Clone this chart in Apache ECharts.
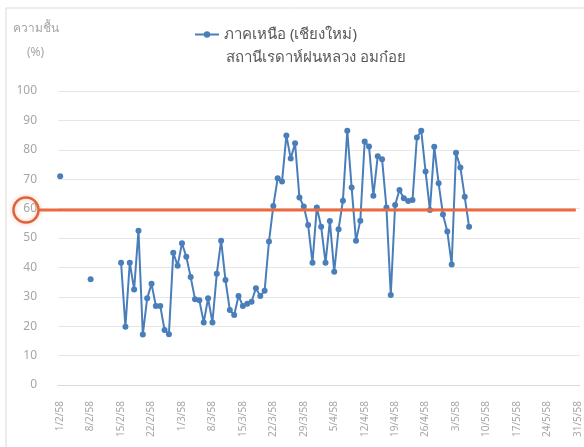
<!DOCTYPE html>
<html>
<head>
<meta charset="utf-8">
<script src="https://cdn.jsdelivr.net/npm/echarts@6/dist/echarts.min.js"></script>
<style>
    html, body { margin: 0; padding: 0; background: #fff; }
    #main { width: 584px; height: 447px; }
</style>
</head>
<body>
<div id="main"></div>
<script>
// วันที่ 1/2/58 ถึง 31/5/58 (วันละจุด)
const monthDays = [[2, 28], [3, 31], [4, 30], [5, 31]];
const categories = [];
monthDays.forEach(([m, n]) => {
    for (let d = 1; d <= n; d++) categories.push(d + '/' + m + '/58');
});

// ความชื้น (%) สถานีเรดาห์ฝนหลวง อมก๋อย
const humidity = [
    71, null, null, null, null, null, null,
    36, null, null, null, null, null, null,
    41.6, 19.8, 41.6, 32.5, 52.5, 17.2, 29.5,
    34.4, 26.9, 26.9, 18.7, 17.3, 45, 40.6,
    48.2, 43.6, 36.7, 29.2, 28.8, 21.3, 29.5,
    21.3, 37.8, 49.1, 35.7, 25.5, 23.8, 30.3,
    26.9, 27.6, 28.3, 32.9, 30.3, 32.1, 48.8,
    60.9, 70.3, 69.2, 84.9, 77, 82.2, 63.8,
    60.7, 54.4, 41.6, 60.4, 53.8, 41.6, 55.8,
    38.5, 53, 62.7, 86.5, 67.2, 49.1, 55.9,
    82.8, 81.1, 64.4, 77.8, 76.8, 60.4, 30.6,
    61.2, 66.3, 63.5, 62.6, 62.9, 84.2, 86.5,
    72.6, 59.5, 81, 68.6, 58, 52.2, 41,
    79, 74, 64, 53.8
];

const yTicks = [0, 100, 10];   // min, max, interval
const threshold = 59.5;        // เส้นเกณฑ์สีแดง

const seriesName = 'ภาคเหนือ (เชียงใหม่)';
const stationName = 'สถานีเรดาห์ฝนหลวง อมก๋อย';

const font = '"Noto Sans", "DejaVu Sans", sans-serif';
const myChart = echarts.init(document.getElementById('main'));
myChart.setOption({
    animation: false,
    textStyle: { fontFamily: font },
    title: [{
        text: stationName,
        left: 221,
        top: 45,
        textStyle: { fontSize: 15, fontWeight: 'normal', color: '#595959' }
    }, {
        text: 'ความชื้น',
        left: 8,
        top: 18,
        textStyle: { fontSize: 12, fontWeight: 'normal', color: '#a6a6a6' }
    }, {
        text: '(%)',
        left: 22,
        top: 42,
        textStyle: { fontSize: 12, fontWeight: 'normal', color: '#a6a6a6' }
    }],
    legend: {
        data: [seriesName],
        left: 189,
        top: 22,
        itemWidth: 24,
        itemHeight: 8,
        itemGap: 3,
        textStyle: { fontSize: 15, color: '#595959' }
    },
    grid: {
        left: 58,
        right: 4,
        top: 91,
        bottom: 62
    },
    xAxis: {
        type: 'category',
        data: categories,
        boundaryGap: true,
        axisLine: { lineStyle: { color: '#d9d9d9' } },
        axisTick: { show: false },
        axisLabel: {
            interval: 6,
            rotate: 90,
            color: '#a6a6a6',
            fontSize: 10,
            margin: 16
        },
        splitLine: { show: false }
    },
    yAxis: {
        type: 'value',
        min: yTicks[0],
        max: yTicks[1],
        interval: yTicks[2],
        axisLine: { show: false },
        axisTick: { show: false },
        axisLabel: { color: '#a6a6a6', fontSize: 12, margin: 21 },
        splitLine: { lineStyle: { color: '#e6e6e6' } }
    },
    series: [{
        name: seriesName,
        type: 'line',
        data: humidity,
        connectNulls: false,
        symbol: 'circle',
        symbolSize: 6,
        showAllSymbol: true,
        lineStyle: { color: '#4a7ebb', width: 2 },
        itemStyle: { color: '#4a7ebb' }
    }]
});

// เส้นเกณฑ์และวงกลมที่ป้ายแกน
const yPx = myChart.convertToPixel({ yAxisIndex: 0 }, threshold);
const xRight = myChart.convertToPixel({ xAxisIndex: 0 }, categories[categories.length - 1]) - 2;
const cx = 26;
const r = 12.5;
myChart.setOption({
    graphic: [{
        type: 'rect',
        shape: { x: 6, y: 8, width: 620, height: 480 },
        style: { fill: 'none', stroke: '#d9d9d9', lineWidth: 1 },
        silent: true
    }, {
        type: 'line',
        shape: { x1: cx + r, y1: yPx, x2: xRight, y2: yPx },
        style: { stroke: '#ed6a3e', lineWidth: 3 },
        z: 10
    }, {
        type: 'circle',
        shape: { cx: cx, cy: yPx, r: r },
        style: { fill: 'none', stroke: '#e0623a', lineWidth: 2.5, shadowBlur: 4, shadowColor: 'rgba(224,98,58,0.4)' },
        z: 10
    }]
});
</script>
</body>
</html>
